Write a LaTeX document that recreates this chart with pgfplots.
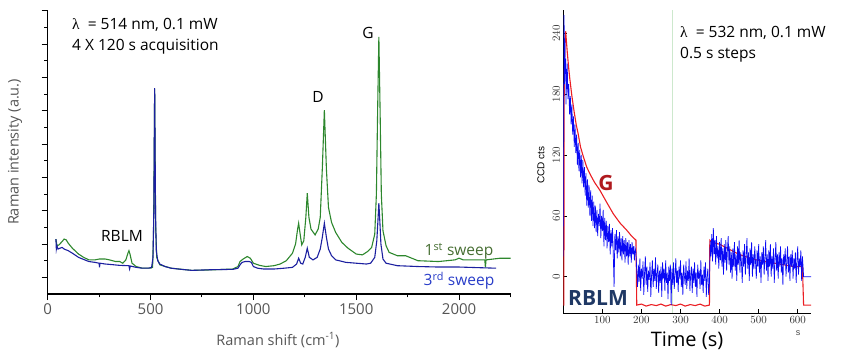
\documentclass[border=0pt]{standalone}
\usepackage{pgfplots}
\pgfplotsset{compat=1.18}
\usepackage{fontspec}
\setmainfont{Open Sans}
\newfontfamily\arialfont{Liberation Sans}
\newfontfamily\serfont{Liberation Serif}
\definecolor{lgreen}{RGB}{45,135,45}
\definecolor{lblue}{RGB}{28,32,160}
\definecolor{sweepgreen}{RGB}{70,110,50}
\definecolor{sweepblue}{RGB}{40,60,200}
\definecolor{tickgray}{RGB}{85,85,85}
\definecolor{rred}{RGB}{235,30,35}
\definecolor{rblue}{RGB}{10,10,245}
\definecolor{gdark}{RGB}{175,25,30}
\definecolor{navy}{RGB}{31,56,100}
\definecolor{vline}{RGB}{205,232,205}
\begin{document}
\begin{tikzpicture}[x=1pt,y=1pt]
\useasboundingbox (0,0) rectangle (850,358);
% ---------------- left panel ----------------
\begin{axis}[
 at={(47.7pt,64pt)}, anchor=south west, scale only axis,
 width=462.8pt, height=283pt,
 xmin=0, xmax=2250, ymin=0, ymax=17,
 axis lines*=left, axis line style={line width=1.3pt, black},
 xtick={0,500,...,2000}, minor xtick={250,750,...,2250},
 ytick={1,3,...,17}, minor ytick={2,4,...,16}, yticklabels={},
 tick align=outside, major tick length=6pt, minor tick length=3.5pt,
 every tick/.style={black, line width=1pt},
 xticklabel style={font=\fontsize{15}{18}\selectfont, text=tickgray},
 /pgf/number format/assume math mode=true,
 /pgf/number format/set thousands separator={},
]
\addplot[lgreen, line width=1.1pt] coordinates {
(40,3.3) (45,2.9) (55,2.95) (70,3.15) (80,3.3) (90,3.25) (100,3.05) (120,2.75) (150,2.4) (175,2.2)
(200,2.05) (230,2.05) (250,2.1) (280,2.1) (300,2.05) (330,1.95) (350,1.95) (365,1.85) (380,2.05)
(390,2.45) (395,2.6) (400,2.4) (410,1.85) (430,1.65) (460,1.55) (500,1.55) (510,1.6) (515,4)
(520,12.3) (525,4) (530,2.2) (545,1.75) (600,1.55) (700,1.42) (800,1.45) (900,1.5) (925,1.65)
(935,1.95) (950,2.1) (970,2.25) (985,2.15) (1000,1.85) (1030,1.72) (1060,1.65) (1100,1.7)
(1130,1.8) (1160,2.0) (1190,2.45) (1205,3.0) (1215,3.9) (1220,4.25) (1225,3.8) (1235,2.95)
(1245,3.2) (1255,4.6) (1262,6.05) (1270,4.6) (1280,3.9) (1300,3.55) (1315,3.9) (1325,4.6)
(1335,7.5) (1345,11.05) (1355,7.5) (1365,5.2) (1380,4.3) (1400,3.7) (1430,3.1) (1460,2.75)
(1500,2.4) (1530,2.35) (1555,2.55) (1575,2.8) (1590,3.6) (1598,6) (1604,11) (1610,15.45)
(1616,11) (1622,6) (1630,3.8) (1645,2.9) (1660,2.5) (1700,2.3) (1740,2.3) (1760,2.2) (1800,2.0)
(1900,1.95) (1980,2.05) (2000,2.15) (2020,2.05) (2100,2.05) (2125,2.05) (2128,1.6) (2131,2.05)
(2200,2.15) (2250,2.15)
};
\addplot[lblue, line width=1.1pt] coordinates {
(40,3.3) (42,2.7) (45,2.9) (50,2.7) (60,2.75) (70,2.8) (80,2.7) (100,2.6) (120,2.45) (150,2.2)
(180,2.05) (200,1.95) (230,1.9) (250,1.85) (252,1.6) (254,1.85) (280,1.8) (300,1.78) (350,1.72)
(395,1.7) (398,1.5) (402,1.68) (430,1.6) (460,1.55) (490,1.55) (505,1.6) (512,2.2) (516,5)
(518,9) (520,12.36) (522,9) (524,5) (528,2.6) (535,2.0) (545,1.8) (570,1.65) (600,1.55)
(650,1.48) (700,1.42) (750,1.44) (800,1.46) (850,1.47) (900,1.48) (925,1.55) (935,1.75)
(945,1.9) (960,1.95) (980,1.95) (990,1.9) (1000,1.65) (1020,1.55) (1050,1.5) (1100,1.5)
(1150,1.55) (1190,1.6) (1210,1.8) (1220,2.15) (1230,1.85) (1240,1.8) (1252,2.2) (1262,2.75)
(1272,2.2) (1290,2.05) (1310,2.2) (1325,2.7) (1335,3.4) (1345,4.25) (1355,3.4) (1365,2.7)
(1380,2.3) (1400,2.05) (1450,1.9) (1500,1.85) (1550,1.8) (1570,1.85) (1590,2.2) (1600,3.2)
(1605,4.3) (1610,5.45) (1615,4.3) (1620,3.0) (1630,2.1) (1645,1.85) (1700,1.7) (1800,1.65)
(1900,1.62) (2000,1.62) (2100,1.58) (2180,1.55)
};
\end{axis}
% ---------------- right panel ----------------
\begin{axis}[
 at={(563.3pt,45pt)}, anchor=south west, scale only axis,
 width=247.7pt, height=303pt,
 xmin=0, xmax=634, ymin=-35.8, ymax=263,
 axis lines*=left, axis line style={black, line width=0.8pt},
 xtick={100,200,...,600}, ytick={0,60,...,240},
 tick align=inside, major tick length=3.5pt,
 every tick/.style={black, line width=0.6pt},
 tick label style={font=\arialfont\fontsize{10.5}{12}\selectfont, text=black!80},
 yticklabel style={rotate=90, anchor=south},
 /pgf/number format/set thousands separator={},
]
\addplot[vline, line width=0.8pt] coordinates {(278,-35.8) (278,263)};
\addplot[rred, line width=1.1pt] coordinates {
(0,-28) (1.5,-28) (2,170) (4,230) (6,242) (10,222) (14,205) (17,194) (22,178) (28,162)
(33,150) (38,141) (44,128) (50,120) (60,108) (70,100) (80,93) (94,85) (110,74) (128,62)
(145,53) (162,46) (175,40) (186,36) (188,-28) (200,-27) (212,-29) (225,-27.5) (238,-28.5)
(250,-27) (262,-29) (275,-27.5) (288,-28.5) (300,-27) (312,-29) (325,-27.5) (338,-28.5)
(350,-27) (362,-29) (374,-28) (375,36) (380,34) (400,32) (420,28) (450,22)
(480,18) (500,16) (530,14) (560,12) (590,10) (612,10) (615,-28) (634,-28)
};
\addplot[rblue, line width=0.7pt] coordinates {
(0,20) (1,150) (2,258) (3,190) (4,235) (5,200) (6,215) (7,170) (8,205) (9,185) (10,210)
(12,175) (14,190) (16,160) (18,178) (20,150) (22,170) (24,140) (26,158) (28,128) (30,150)
(32,122) (34,140) (36,110) (38,132) (40,104) (42,125) (44,98) (46,120) (48,92) (50,115)
(52,88) (54,108) (56,80) (58,102) (60,70) (62,96) (64,68) (66,90) (68,60) (70,85) (72,55)
(74,80) (76,50) (78,74) (80,48) (82,70) (84,44) (86,66) (88,40) (90,62) (92,50) (94,72)
(96,38) (98,60) (100,45) (102,66) (104,30) (106,58) (108,36) (110,55) (112,28) (114,50)
(116,34) (118,52) (120,22) (122,46) (124,30) (126,48) (128,20) (130,-10) (132,42) (134,26)
(136,46) (138,18) (140,40) (142,24) (144,44) (146,20) (148,38) (150,16) (152,40) (154,22)
(156,36) (158,14) (160,38) (162,20) (164,34) (166,12) (168,36) (170,20) (172,32) (174,14)
(176,34) (178,22) (180,30) (182,16) (184,28) (186,24)
(188,5) (190,-10) (192,12) (194,-5) (196,18) (198,-14) (200,8) (202,-2) (204,15) (206,-18)
(208,4) (210,20) (212,-8) (214,10) (216,-15) (218,6) (220,-3) (222,14) (224,-20) (226,2)
(228,16) (230,-10) (232,8) (234,-4) (236,19) (238,-12) (240,3) (242,12) (244,-16) (246,6)
(248,-6) (250,10) (252,-20) (254,14) (256,-2) (258,8) (260,-14) (262,16) (264,-6) (266,4)
(268,-22) (270,10) (272,-4) (274,12) (276,-28) (278,8) (280,-8) (282,14) (284,-12) (286,2)
(288,18) (290,-6) (292,6) (294,-15) (296,10) (298,-2) (300,16) (302,-10) (304,4) (306,-18)
(308,12) (310,0) (312,-8) (314,15) (316,-12) (318,6) (320,-4) (322,18) (324,-14) (326,2)
(328,10) (330,-16) (332,8) (334,-6) (336,14) (338,-10) (340,4) (342,-20) (344,12) (346,-2)
(348,6) (350,-12) (352,16) (354,-8) (356,2) (358,-16) (360,10) (362,-4) (364,14) (366,-20)
(368,0) (370,8) (372,-18) (374,-6)
(376,35) (378,20) (380,42) (382,15) (384,48) (386,22) (388,36) (390,12) (392,40) (394,18)
(396,30) (398,8) (400,34) (402,16) (404,38) (406,10) (408,28) (410,2) (412,32) (414,14)
(416,36) (418,6) (420,26) (422,40) (424,12) (426,30) (428,4) (430,24) (432,-2) (434,28)
(436,10) (438,34) (440,6) (442,22) (444,-4) (446,30) (448,12) (450,36) (452,4) (454,24)
(456,14) (458,-6) (460,26) (462,10) (464,32) (466,2) (468,20) (470,38) (472,8) (474,24)
(476,-4) (478,28) (480,12) (482,34) (484,0) (486,22) (488,8) (490,30) (492,14) (494,-2)
(496,26) (498,10) (500,32) (502,4) (504,20) (506,-6) (508,24) (510,12) (512,30) (514,2)
(516,18) (518,36) (520,6) (522,22) (524,-4) (526,26) (528,10) (530,32) (532,0) (534,20)
(536,8) (538,28) (540,-6) (542,18) (544,34) (546,6) (548,22) (550,-2) (552,24) (554,10)
(556,30) (558,4) (560,18) (562,-8) (564,22) (566,12) (568,28) (570,0) (572,16) (574,30)
(576,4) (578,20) (580,-4) (582,22) (584,10) (586,26) (588,-2) (590,18) (592,8) (594,24)
(596,-6) (598,16) (600,30) (602,2) (604,18) (606,10) (608,26) (610,-4) (612,20) (614,8)
(615,0) (634,0)
};
\end{axis}
% ---------------- text ----------------
\def\bigf{\fontsize{15.5}{18}\selectfont}
\node[anchor=west, font=\bigf, inner sep=0] at (72,333) {{\serfont λ}\ \ = 514 nm, 0.1 mW};
\node[anchor=west, font=\bigf, inner sep=0] at (72,311) {4 X 120 s acquisition};
\node[font=\bigf] at (368,325) {G};
\node[font=\bigf] at (318,261) {D};
\node[font=\bigf] at (122,122) {RBLM};
\node[font=\bigf, text=sweepgreen] at (459,107) {1\textsuperscript{st} sweep};
\node[font=\bigf, text=sweepblue] at (459,77) {3\textsuperscript{rd} sweep};
\node[font=\fontsize{14.5}{17}\selectfont, text=tickgray, rotate=90] at (15,206) {Raman intensity (a.u.)};
\node[font=\fontsize{14.5}{17}\selectfont, text=tickgray] at (278,18) {Raman shift (cm\textsuperscript{-1})};
\node[anchor=west, font=\bigf, inner sep=0] at (680,325) {{\serfont λ}\ \ = 532 nm, 0.1 mW};
\node[anchor=west, font=\bigf, inner sep=0] at (680,303) {0.5 s steps};
\node[font=\bfseries\fontsize{21}{24}\selectfont, text=gdark] at (606,175) {G};
\node[font=\bfseries\fontsize{21}{24}\selectfont, text=navy] at (598,60) {RBLM};
\node[font=\arialfont\fontsize{10}{12}\selectfont, rotate=90] at (541,193) {CCD cts};
\node[font=\fontsize{20}{24}\selectfont] at (687,17) {Time (s)};
\node[font=\arialfont\fontsize{9}{10}\selectfont, text=black!70] at (798,25) {s};
\end{tikzpicture}
\end{document}
